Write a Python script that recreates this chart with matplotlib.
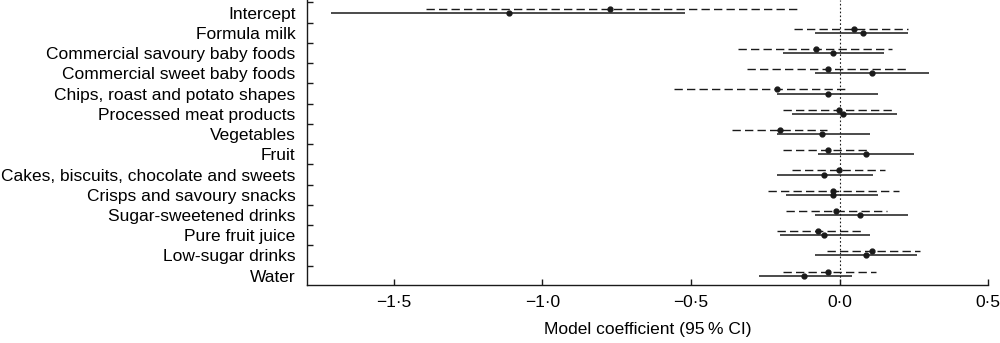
import matplotlib
matplotlib.use("Agg")
import matplotlib.pyplot as plt
import numpy as np

plt.rcParams['font.family'] = ['Liberation Sans', 'DejaVu Sans']

categories = ["Intercept", "Formula milk", "Commercial savoury baby foods",
              "Commercial sweet baby foods", "Chips, roast and potato shapes",
              "Processed meat products", "Vegetables", "Fruit",
              "Cakes, biscuits, chocolate and sweets", "Crisps and savoury snacks",
              "Sugar-sweetened drinks", "Pure fruit juice", "Low-sugar drinks", "Water"]

# dashed model (upper line in each row)
dashed_est = [-0.772, 0.049, -0.081, -0.040, -0.211, -0.001, -0.201, -0.040,
              -0.001, -0.022, -0.011, -0.072, 0.109, -0.040]
dashed_lo = [-1.393, -0.153, -0.343, -0.313, -0.557, -0.192, -0.363, -0.192,
             -0.161, -0.242, -0.182, -0.212, -0.043, -0.192]
dashed_hi = [-0.140, 0.231, 0.177, 0.231, 0.021, 0.180, -0.044, 0.091,
             0.152, 0.199, 0.160, 0.072, 0.270, 0.121]

# solid model (lower line in each row)
solid_est = [-1.111, 0.078, -0.022, 0.109, -0.040, 0.010, -0.061, 0.088,
             -0.052, -0.022, 0.069, -0.052, 0.088, -0.121]
solid_lo = [-1.711, -0.082, -0.192, -0.082, -0.211, -0.161, -0.212, -0.072,
            -0.212, -0.182, -0.082, -0.201, -0.082, -0.271]
solid_hi = [-0.520, 0.231, 0.150, 0.300, 0.130, 0.192, 0.102, 0.250,
            0.111, 0.130, 0.231, 0.102, 0.261, 0.040]

xticks = [-1.5, -1.0, -0.5, 0.0, 0.5]
xtick_labels = ["\u22121\u00b75", "\u22121\u00b70", "\u22120\u00b75", "0\u00b70", "0\u00b75"]

color = "#1a1a1a"
fs = 12.5

fig = plt.figure(figsize=(10, 3.43), dpi=100)
ax = fig.add_axes([0.3067, 0.169, 0.6816, 0.831])

y = np.arange(len(categories))
off = 0.2

ax.axvline(0, color=color, lw=0.8, ls=(0, (1.5, 2)), zorder=1)

ax.hlines(y - off, dashed_lo, dashed_hi, colors=color, lw=1.0, linestyles=(0, (6.0, 3.0)), zorder=2)
ax.plot(dashed_est, y - off, 'o', color=color, ms=3.5, zorder=3)
ax.hlines(y, solid_lo, solid_hi, colors=color, lw=1.1, zorder=2)
ax.plot(solid_est, y, 'o', color=color, ms=3.5, zorder=3)

ax.set_xlim(-1.793, 0.5)
ax.set_ylim(len(categories) - 1 + 0.46, -0.62)

ax.set_yticks(y)
ax.set_yticklabels(categories, fontsize=fs)
ax.set_yticks(y - 0.5, minor=True)
ax.tick_params(axis='y', which='major', length=0, pad=8)
ax.tick_params(axis='y', which='minor', direction='in', length=4, width=1, color=color)

ax.set_xticks(xticks)
ax.set_xticklabels(xtick_labels, fontsize=fs)
ax.tick_params(axis='x', direction='in', length=4, width=1, pad=7, color=color)

ax.spines['top'].set_visible(False)
ax.spines['right'].set_visible(False)
for s in ['left', 'bottom']:
    ax.spines[s].set_color(color)
    ax.spines[s].set_linewidth(1.0)

ax.set_xlabel("Model coefficient (95\u2009% CI)", fontsize=fs, labelpad=9)

fig.savefig("out.png", dpi=100)
